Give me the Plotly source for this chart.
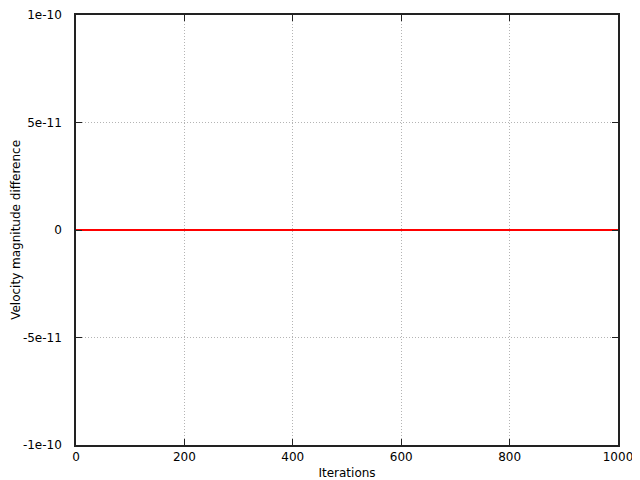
import plotly.graph_objects as go

# Velocity magnitude difference per iteration (flat at zero)
iterations = [0, 200, 400, 600, 800, 1000]
vel_diff = [0, 0, 0, 0, 0, 0]

x_ticks = [0, 200, 400, 600, 800, 1000]
y_ticks = [-1e-10, -5e-11, 0, 5e-11, 1e-10]
y_tick_text = ["-1e-10", "-5e-11", "0", "5e-11", "1e-10"]

fig = go.Figure()

fig.add_trace(
    go.Scatter(
        x=iterations,
        y=vel_diff,
        mode="lines",
        line=dict(color="#ff0000", width=2),
        showlegend=False,
    )
)

axis_common = dict(
    automargin=False,
    showline=True,
    linecolor="#222222",
    linewidth=1.5,
    mirror="ticks",
    ticks="inside",
    ticklen=6,
    tickcolor="#222222",
    showgrid=True,
    gridcolor="#b4b4b4",
    griddash="1px,2px",
    gridwidth=1,
    zeroline=False,
    tickfont=dict(family="DejaVu Sans", size=12, color="#000000"),
)

fig.update_xaxes(
    range=[0, 1000],
    tickvals=x_ticks,
    ticktext=[str(v) for v in x_ticks],
    title=dict(text="Iterations", standoff=5,
               font=dict(family="DejaVu Sans", size=12, color="#000000")),
    ticklabelstandoff=0,
    **axis_common,
)

fig.update_yaxes(
    range=[-1e-10, 1e-10],
    tickvals=y_ticks,
    ticktext=y_tick_text,
    ticklabelstandoff=10,
    **axis_common,
)

# y title as an annotation, kept just inside the page's left edge
fig.add_annotation(
    text="Velocity magnitude difference",
    xref="paper",
    yref="paper",
    x=-0.111,
    y=0.5,
    xanchor="center",
    yanchor="middle",
    textangle=-90,
    showarrow=False,
    font=dict(family="DejaVu Sans", size=12, color="#000000"),
)

# page body has an 8px margin, so the figure is sized and offset for it
fig.update_layout(
    width=632,
    height=472,
    paper_bgcolor="white",
    plot_bgcolor="white",
    margin=dict(l=68, r=22, t=7, b=35),
    font=dict(family="DejaVu Sans", size=12, color="#000000"),
)

fig.write_html("out.html")
